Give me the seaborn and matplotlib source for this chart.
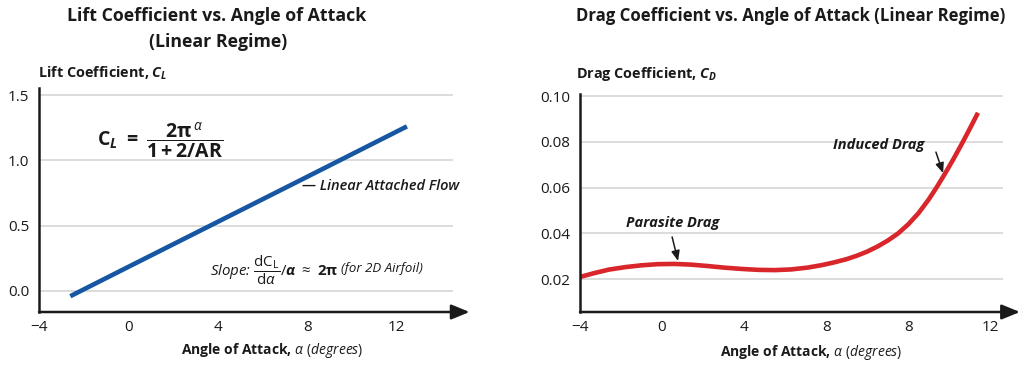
import numpy as np
import pandas as pd
import matplotlib
matplotlib.use("Agg")
import matplotlib.pyplot as plt
import matplotlib.transforms as mtransforms
import seaborn as sns

# values
lift_alpha = [-2.6, 0, 4, 8, 12.45]
lift_cl = [-0.04, 0.185, 0.53, 0.875, 1.26]
lift_xticks = [-4, 0, 4, 8, 12]
lift_yticks = [0.0, 0.5, 1.0, 1.5]

# drag axis: tick positions are evenly spaced, labels as printed (8 appears twice)
drag_pos = [-4, -3.3, -2.6, -1.8, -1.0, -0.2, 0.6, 1.4, 2.2, 3.0, 3.9, 4.7,
            5.5, 6.3, 7.1, 7.8, 8.4, 9.0, 9.5, 10.0, 10.5, 11.0, 11.5, 12.0,
            12.5, 13.0, 13.4, 13.8, 14.2, 14.6, 15.0, 15.4]
drag_cd = [0.0209, 0.0226, 0.0241, 0.0252, 0.0260, 0.0265, 0.0266, 0.0263,
           0.0257, 0.0250, 0.0244, 0.0240, 0.0239, 0.0242, 0.0250, 0.0261,
           0.0273, 0.0287, 0.0302, 0.0320, 0.0342, 0.0368, 0.0399, 0.0439,
           0.0488, 0.0548, 0.0603, 0.0662, 0.0724, 0.0789, 0.0857, 0.0927]
drag_xticks = [-4, 0, 4, 8, 12, 16]
drag_xlabels = ["\u22124", "0", "4", "8", "8", "12"]
drag_yticks = [0.02, 0.04, 0.06, 0.08, 0.10]

sns.set_theme(style="white")
plt.rcParams["font.family"] = ["Open Sans", "DejaVu Sans"]
plt.rcParams["mathtext.fontset"] = "custom"
plt.rcParams["mathtext.rm"] = "Open Sans"
plt.rcParams["mathtext.it"] = "Open Sans:italic"
plt.rcParams["mathtext.bf"] = "Open Sans:bold"
plt.rcParams["mathtext.bfit"] = "Open Sans:italic:bold"

TXT = "#1a1a1a"
GRID = "#d2d2d2"
W, H = 1021, 366

fig = plt.figure(figsize=(W / 100, H / 100), dpi=100)


def px_axes(x0, x1, ytop, ybot):
    return fig.add_axes([x0 / W, 1 - ybot / H, (x1 - x0) / W, (ybot - ytop) / H])


ax1 = px_axes(39, 453, 88, 312)
ax2 = px_axes(580, 1003, 94, 312)

lift = pd.DataFrame({"alpha": lift_alpha, "cl": lift_cl})
drag = pd.DataFrame({"pos": drag_pos, "cd": drag_cd})

sns.lineplot(data=lift, x="alpha", y="cl", ax=ax1, color="#1656a3", lw=3.3,
             solid_capstyle="butt")
sns.lineplot(data=drag, x="pos", y="cd", ax=ax2, color="#d8262b", lw=3.3,
             solid_capstyle="butt", solid_joinstyle="round")

ax1.set_xlim(-4, 14.51)
ax1.set_ylim(-0.161, 1.554)
ax1.set_xticks(lift_xticks)
ax1.set_xticklabels(["\u22124", "0", "4", "8", "12"])
ax1.set_yticks(lift_yticks)
ax1.set_yticklabels(["0.0", "0.5", "1.0", "1.5"])

ax2.set_xlim(-4, 16.62)
ax2.set_ylim(0.00558, 0.1009)
ax2.set_xticks(drag_xticks)
ax2.set_xticklabels(drag_xlabels)
ax2.set_yticks(drag_yticks)
ax2.set_yticklabels(["0.02", "0.04", "0.06", "0.08", "0.10"])

for ax in (ax1, ax2):
    ax.set_xlabel("")
    ax.set_ylabel("")
    ax.grid(axis="y", color=GRID, lw=1.1)
    ax.set_axisbelow(True)
    for s in ("top", "right", "bottom"):
        ax.spines[s].set_visible(False)
    ax.spines["left"].set_color(TXT)
    ax.spines["left"].set_linewidth(1.8)
    ax.tick_params(axis="x", direction="in", length=5, width=1, color="#666666",
                   pad=6, labelsize=11, labelcolor=TXT)
    ax.tick_params(axis="y", length=0, pad=7, labelsize=11, labelcolor=TXT)
    ax.annotate("", xy=(1.04, 0), xytext=(0, 0), xycoords="axes fraction",
                textcoords="axes fraction", annotation_clip=False,
                arrowprops=dict(arrowstyle="-|>,head_length=1.1,head_width=0.45",
                                color=TXT, lw=1.8, mutation_scale=10,
                                shrinkA=0, shrinkB=0))

# titles and axis labels
fig.text(217 / W, 1 - 16 / H, "Lift Coefficient vs. Angle of Attack",
         ha="center", va="center", fontsize=12.8, fontweight="bold", color=TXT)
fig.text(218 / W, 1 - 42 / H, "(Linear Regime)",
         ha="center", va="center", fontsize=12.8, fontweight="bold", color=TXT)
fig.text(791 / W, 1 - 16 / H, "Drag Coefficient vs. Angle of Attack (Linear Regime)",
         ha="center", va="center", fontsize=12.1, fontweight="bold", color=TXT)
fig.text(38 / W, 1 - 73 / H, r"Lift Coefficient, $\mathbfit{C_L}$",
         ha="left", va="center", fontsize=10.4, fontweight="bold", color=TXT)
fig.text(576 / W, 1 - 74 / H, r"Drag Coefficient, $\mathbfit{C_D}$",
         ha="left", va="center", fontsize=10.4, fontweight="bold", color=TXT)
fig.text(272 / W, 1 - 350 / H, r"Angle of Attack, $\mathit{\alpha\ (degrees)}$",
         ha="center", va="center", fontsize=10, fontweight="bold", color=TXT)
fig.text(811 / W, 1 - 352 / H, r"Angle of Attack, $\mathit{\alpha\ (degrees)}$",
         ha="center", va="center", fontsize=10, fontweight="bold", color=TXT)

# lift annotations
ax1.text(-1.41, 1.145,
         r"$\mathbf{C}_{\mathbfit{L}}\ \mathbf{=}\ \dfrac{\mathbf{2\pi}^{\,\alpha}}{\mathbf{1 + 2/AR}}$",
         ha="left", va="center", fontsize=14, color=TXT)
ax1.text(7.76, 0.80, "\u2014 Linear Attached Flow", ha="left", va="center",
         fontsize=10.5, style="italic", fontweight="semibold", color=TXT)
slope = ax1.text(3.64, 0.16,
                 r"Slope: $\dfrac{\mathrm{dC_L}}{\mathrm{d}\alpha}/\mathbfit{\alpha}\ \approx\ \mathbf{2\pi}$",
                 ha="left", va="center", fontsize=10.8, style="italic", color=TXT)
fig.canvas.draw()
bb = slope.get_window_extent()
ax1.text(bb.x1 + 3, 0.17, "(for 2D Airfoil)", ha="left", va="center",
         fontsize=9.5, style="italic", color=TXT,
         transform=mtransforms.blended_transform_factory(
             mtransforms.IdentityTransform(), ax1.transData))

# drag annotations
ax2.text(0.53, 0.0445, "Parasite Drag", ha="center", va="center",
         fontsize=10.5, style="italic", fontweight="bold", color=TXT)
ax2.annotate("", xy=(0.78, 0.0279), xytext=(0.49, 0.0384),
             arrowprops=dict(arrowstyle="-|>,head_length=0.6,head_width=0.25",
                             color=TXT, lw=1.1, mutation_scale=10, shrinkA=0, shrinkB=0))
ax2.text(10.58, 0.0786, "Induced Drag", ha="center", va="center",
         fontsize=10.5, style="italic", fontweight="bold", color=TXT)
ax2.annotate("", xy=(13.7, 0.0663), xytext=(13.35, 0.0755),
             arrowprops=dict(arrowstyle="-|>,head_length=0.6,head_width=0.25",
                             color=TXT, lw=1.1, mutation_scale=10, shrinkA=0, shrinkB=0))

fig.savefig("out.png", dpi=100, facecolor="white")
